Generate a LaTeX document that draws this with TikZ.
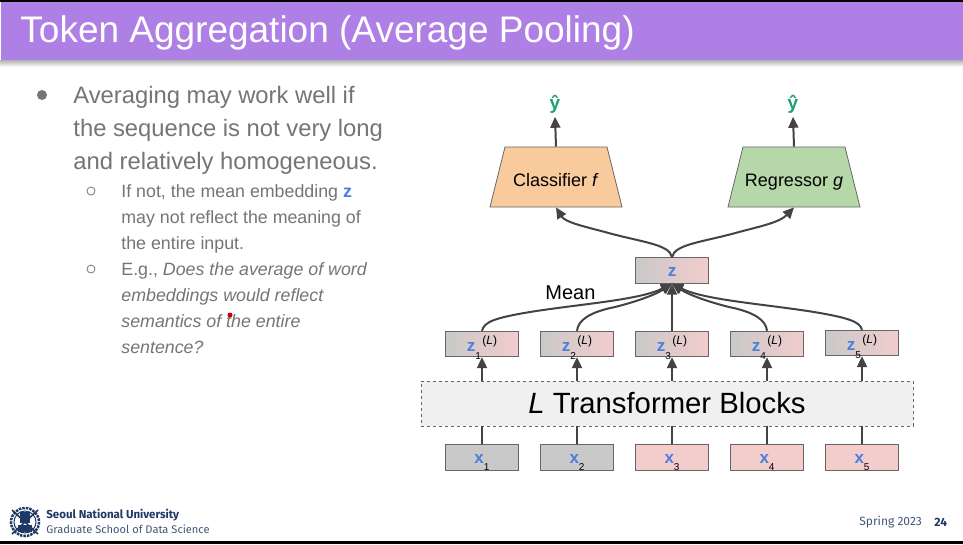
\documentclass[tikz,border=0pt]{standalone}
\usepackage{fontspec}
\usepackage{tikz}
\usepackage{xcolor}
\usetikzlibrary{arrows.meta}
\setmainfont{Liberation Sans}
\newfontfamily\logofont{Fira Sans}

\definecolor{slidepurple}{HTML}{AE7FE5}
\definecolor{bodygray}{HTML}{757575}
\definecolor{tokblue}{HTML}{4A7FDC}
\definecolor{hatgreen}{HTML}{1E9E75}
\definecolor{tokgray}{HTML}{C9C9C9}
\definecolor{tokpink}{HTML}{F3CCCC}
\definecolor{edgegray}{HTML}{666666}
\definecolor{wiregray}{HTML}{434343}
\definecolor{clforange}{HTML}{F9CB9C}
\definecolor{reggreen}{HTML}{B6D7A8}
\definecolor{navytext}{HTML}{1F3864}

\newcommand{\fsz}[1]{\fontsize{#1}{#1}\selectfont}
\newcommand{\xtok}[1]{\raisebox{-6pt}[0pt][0pt]{\textcolor{tokblue}{\bfseries\fsz{17}x}\raisebox{-6.5pt}{\fsz{10}#1}}}
\newcommand{\ztok}[1]{\raisebox{-7.5pt}[0pt][0pt]{\textcolor{tokblue}{\bfseries\fsz{17}z}\raisebox{-8pt}{\fsz{10}#1}\hspace{1.5pt}\raisebox{7.5pt}{\fsz{12}(\textit{L})}}}

\tikzset{
    tokbox/.style={draw=edgegray,line width=0.8pt,minimum width=73,minimum height=25.5,inner sep=0pt},
    graybox/.style={tokbox,fill=tokgray},
    pinkbox/.style={tokbox,fill=tokpink},
    mixbox/.style={tokbox,left color=tokgray,right color=tokpink},
    headshape/.style={draw=edgegray,line width=0.8pt},
    headbox/.style={minimum width=132,minimum height=60,inner sep=0pt,font=\fsz{18}},
    tokarrow/.style={draw=wiregray,line width=2pt,-{Triangle[length=11pt,width=10pt]}},
    tokwire/.style={draw=wiregray,line width=2pt},
    hatlabel/.style={text=hatgreen,font=\bfseries\fsz{19}},
    listmain/.style={anchor=north west,align=left,text=bodygray,inner sep=0pt},
    hollowdot/.style={circle,draw=bodygray,line width=0.8pt,minimum size=8,inner sep=0pt},
}

\begin{document}
\begin{tikzpicture}[x=1pt,y=-1pt,line width=0.8pt]
        \useasboundingbox (0,0) rectangle (963,544);
        \fill[white] (0,0) rectangle (963,544);

        % ------------------------------------------------ title band
        \shade[top color=black!30,bottom color=white] (0,60) rectangle (963,67);
        \fill[slidepurple] (1,2) rectangle (963,60);
        \fill[black] (0,0) rectangle (963,2);
        \fill[black] (0,541) rectangle (963,544);
        \node[anchor=west,text=white,font=\fsz{37},inner sep=0pt] (title) at (20,33) {Token Aggregation (Average Pooling)};

        % ------------------------------------------------ bullet text
        \node[circle,fill=bodygray,minimum size=10,inner sep=0pt] (dotmain) at (42,95) {};
        \node[listmain,font=\fontsize{23.8}{33}\selectfont] (listmain) at (73,86)
        {Averaging may work well if\\the sequence is not very long\\and relatively homogeneous.};

        \node[hollowdot] (dotone) at (91,191) {};
        \node[listmain,font=\fontsize{17.8}{26}\selectfont] (listone) at (121,184)
        {If not, the mean embedding \textcolor{tokblue}{\textbf{z}}\\may not reflect the meaning of\\the entire input.};

        \node[hollowdot] (dottwo) at (91,269) {};
        \node[listmain,font=\fontsize{17.8}{26}\selectfont] (listtwo) at (121,262)
        {E.g., \textit{Does the average of word}\\\textit{embeddings would reflect}\\\textit{semantics of the entire}\\\textit{sentence?}};

        \fill[red!80!black] (230,315) circle (2.5);

        % ------------------------------------------------ input tokens and blocks
        \node[graybox] (x1) at (482,457.5) {\xtok{1}};
        \node[graybox] (x2) at (577,457.5) {\xtok{2}};
        \node[pinkbox] (x3) at (672,457.5) {\xtok{3}};
        \node[pinkbox] (x4) at (767,457.5) {\xtok{4}};
        \node[pinkbox] (x5) at (862,457.5) {\xtok{5}};

        \node[draw=edgegray,dashed,fill=black!6,minimum width=492,minimum height=45,inner sep=0pt,font=\fsz{29.3}] (blocks) at (667,403.5)
        {\textit{L} Transformer Blocks};

        \node[mixbox] (z1) at (482,344) {\ztok{1}};
        \node[mixbox] (z2) at (577,344) {\ztok{2}};
        \node[mixbox] (z3) at (672,344) {\ztok{3}};
        \node[mixbox] (z4) at (767,344) {\ztok{4}};
        \node[mixbox] (z5) at (862,343) {\ztok{5}};

        \foreach \tok in {1,...,5} {
            \draw[tokwire] (x\tok.north) -- (x\tok.north |- blocks.south);
            \draw[tokarrow] (z\tok.south |- blocks.north) -- (z\tok.south);
        }

        % ------------------------------------------------ mean and heads
        \node[mixbox] (zmean) at (672,270.5) {\raisebox{-6pt}[0pt][0pt]{\textcolor{tokblue}{\bfseries\fsz{17}z}}};
        \node[anchor=west,inner sep=0pt,font=\fsz{20}] (meanlabel) at (545,293) {Mean};

        \draw[tokarrow] (z1.north) .. controls (484,322) and (494,318) .. (530,312) .. controls (580,304) and (640,300) .. (zmean.south);
        \draw[tokarrow] (z2.north) .. controls (578,320) and (590,312) .. (615,307) .. controls (635,302) and (655,295) .. (zmean.south);
        \draw[tokarrow] (z3.north) -- (zmean.south);
        \draw[tokarrow] (z4.north) .. controls (766,320) and (754,312) .. (729,307) .. controls (709,302) and (689,295) .. (zmean.south);
        \draw[tokarrow] (z5.north) .. controls (860,322) and (850,318) .. (814,312) .. controls (764,304) and (704,300) .. (zmean.south);

        \draw[headshape,fill=clforange] (505,147) -- (607,147) -- (622,207) -- (490,207) -- cycle;
        \draw[headshape,fill=reggreen] (743,147) -- (845,147) -- (860,207) -- (728,207) -- cycle;
        \node[headbox] (clf) at (556,177) {\raisebox{-9pt}[0pt][0pt]{Classifier \textit{f}}};
        \node[headbox] (reg) at (794,177) {\raisebox{-9pt}[0pt][0pt]{Regressor \textit{g}}};
        \node[hatlabel] (yhatf) at (555,104) {ŷ};
        \node[hatlabel] (yhatg) at (793,104) {ŷ};

        \draw[tokarrow] (clf.north) -- (yhatf.south);
        \draw[tokarrow] (reg.north) -- (yhatg.south);
        \draw[tokarrow] (zmean.north) .. controls (670,244) and (640,242) .. (605,232) .. controls (582,226) and (565,222) .. (clf.south);
        \draw[tokarrow] (zmean.north) .. controls (674,244) and (704,242) .. (739,232) .. controls (762,226) and (780,222) .. (reg.south);

        % ------------------------------------------------ footer
        \begin{scope}[navytext]
        \draw[line width=2.5pt,densely dotted] (25,522) circle (14);
        \draw[line width=1pt] (25,522) circle (11);
        \fill (18,525) rectangle (32,532);
        \fill (20,512) rectangle (30,523);
        \draw[line width=1.6pt] (12,510) -- (38,534);
        \draw[line width=1.6pt] (38,510) -- (12,534);
        \end{scope}
        \node[anchor=west,inner sep=0pt,text=navytext,font=\logofont\bfseries\fsz{11.5}] (univ) at (46,515) {Seoul National University};
        \node[anchor=west,inner sep=0pt,text=navytext!85!white,font=\logofont\fsz{11.1}] (school) at (46,529) {Graduate School of Data Science};
        \node[anchor=west,inner sep=0pt,text=navytext!85!white,font=\logofont\fsz{12}] (term) at (859,522) {Spring 2023};
        \node[anchor=west,inner sep=0pt,text=navytext,font=\logofont\bfseries\fsz{12}] (pagenum) at (934,522) {24};

\end{tikzpicture}
\end{document}
